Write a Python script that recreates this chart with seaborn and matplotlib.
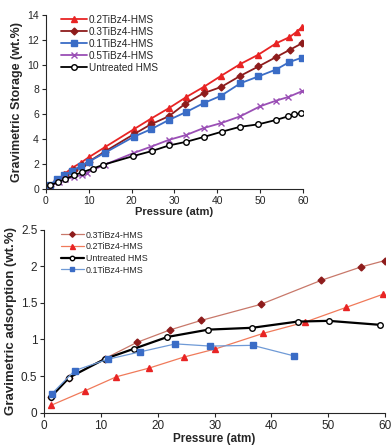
import pandas as pd
import seaborn as sns
import matplotlib.pyplot as plt
from matplotlib.ticker import FuncFormatter

# Top panel: gravimetric storage (wt.%) vs pressure (atm)
p_02 = [1, 2.7, 4.3, 6.1, 8.1, 10, 13.7, 20.5, 24.5, 28.7, 32.8, 36.8, 40.9, 45.4, 49.6, 53.7, 56.8, 58.6, 59.7]
s_02 = [0.2, 0.75, 1.2, 1.7, 2.1, 2.55, 3.35, 4.8, 5.65, 6.5, 7.4, 8.2, 9.1, 10.05, 10.8, 11.7, 12.2, 12.65, 13.0]
p_03 = [1, 2.7, 4.5, 6.5, 8.5, 10, 13.7, 20.5, 24.5, 28.7, 32.5, 36.8, 40.9, 45.4, 49.6, 53.7, 57, 59.7]
s_03 = [0.25, 0.7, 1.1, 1.5, 1.9, 2.2, 3.0, 4.4, 5.2, 5.85, 6.85, 7.7, 8.2, 9.1, 9.85, 10.6, 11.2, 11.7]
p_01 = [1, 2.7, 4.3, 6.1, 8.1, 10, 13.7, 20.5, 24.5, 28.7, 32.8, 36.8, 40.9, 45.4, 49.6, 53.7, 56.8, 59.7]
s_01 = [0.35, 0.8, 1.1, 1.45, 1.85, 2.2, 2.9, 4.2, 4.8, 5.55, 6.2, 6.9, 7.5, 8.5, 9.05, 9.6, 10.2, 10.55]
p_05 = [1, 3, 4.5, 6.5, 8.5, 9.5, 13.7, 20.5, 24.5, 28.7, 32.8, 36.8, 40.9, 45.4, 50, 53.7, 56.6, 59.7]
s_05 = [0.2, 0.6, 0.8, 0.95, 1.15, 1.3, 1.95, 2.9, 3.4, 3.95, 4.35, 4.9, 5.3, 5.85, 6.65, 7.1, 7.4, 7.85]
p_un = [1, 2.8, 4.5, 6.5, 8.5, 11, 13.4, 20.4, 24.7, 28.7, 32.8, 37, 41, 45.3, 49.6, 53.7, 56.6, 58, 59.5]
s_un = [0.3, 0.55, 0.8, 1.1, 1.35, 1.65, 1.95, 2.65, 3.05, 3.5, 3.8, 4.2, 4.6, 5.0, 5.2, 5.55, 5.85, 6.0, 6.1]

# Bottom panel: gravimetric adsorption (wt.%) vs pressure (atm)
q_03 = [1.1, 4.4, 10.7, 16.3, 22.1, 27.6, 38.1, 48.8, 55.7, 60]
a_03 = [0.21, 0.48, 0.74, 0.96, 1.13, 1.26, 1.48, 1.81, 1.99, 2.08]
q_02 = [1.2, 7.2, 12.7, 18.5, 24.6, 30.1, 38.6, 45.9, 53.2, 59.7]
a_02 = [0.1, 0.30, 0.49, 0.61, 0.76, 0.87, 1.085, 1.237, 1.44, 1.62]
q_un = [1.1, 4.4, 10.7, 15.85, 21.7, 28.9, 36.6, 44.6, 50.1, 59.2]
a_un = [0.21, 0.48, 0.735, 0.875, 1.035, 1.135, 1.16, 1.245, 1.255, 1.2]
q_01 = [1.3, 5.35, 11.2, 16.85, 23.1, 29.2, 36.7, 44]
a_01 = [0.256, 0.575, 0.73, 0.83, 0.94, 0.91, 0.92, 0.775]

sns.set_style("ticks")
plt.rcParams['font.family'] = ['Liberation Sans', 'DejaVu Sans']

fig = plt.figure(figsize=(3.92, 4.48), dpi=100)
ax1 = fig.add_axes([0.117, 0.578, 0.656, 0.389])
ax2 = fig.add_axes([0.113, 0.079, 0.869, 0.408])

red = '#e82424'
darkred = '#8e1c1c'
blue = '#3a6cc6'
purple = '#9a4fb5'

# top chart
top = [
    (p_02, s_02, '0.2TiBz4-HMS', red, '^', red, 4.5),
    (p_03, s_03, '0.3TiBz4-HMS', darkred, 'D', darkred, 3.5),
    (p_01, s_01, '0.1TiBz4-HMS', blue, 's', blue, 4),
    (p_05, s_05, '0.5TiBz4-HMS', purple, 'x', purple, 5),
    (p_un, s_un, 'Untreated HMS', 'black', 'o', 'white', 4),
]
for x, y, name, col, mk, face, ms in top:
    sns.lineplot(x=x, y=y, ax=ax1, sort=False, color=col, marker=mk, markersize=ms,
                 markerfacecolor=face, markeredgecolor=col, markeredgewidth=1,
                 linewidth=1.3, label=name)

ax1.set_xlim(0, 60)
ax1.set_ylim(0, 14)
ax1.set_xticks(range(0, 61, 10))
ax1.set_yticks(range(0, 15, 2))
ax1.tick_params(labelsize=7.5, length=3, width=0.8, pad=2)
ax1.set_xlabel('Pressure (atm)', fontsize=8, fontweight='bold', labelpad=1)
ax1.set_ylabel('Gravimetric Storage (wt.%)', fontsize=9, fontweight='bold', labelpad=3)
ax1.legend(loc='upper left', bbox_to_anchor=(0.03, 1.04), frameon=False, fontsize=7.2,
           handlelength=2.6, handletextpad=0.2, labelspacing=0.2, borderpad=0.2)
sns.despine(ax=ax1)

# bottom chart
bottom = [
    (q_03, a_03, '0.3TiBz4-HMS', '#c8786a', 'D', darkred, darkred, 3.5, 0.9),
    (q_02, a_02, '0.2TiBz4-HMS', '#f07a5a', '^', red, red, 4.5, 0.9),
    (q_un, a_un, 'Untreated HMS', 'black', 'o', 'white', 'black', 4, 1.6),
    (q_01, a_01, '0.1TiBz4-HMS', '#6f9ad6', 's', blue, blue, 4, 0.9),
]
for x, y, name, lc, mk, face, edge, ms, lw in bottom:
    sns.lineplot(x=x, y=y, ax=ax2, sort=False, color=lc, marker=mk, markersize=ms,
                 markerfacecolor=face, markeredgecolor=edge, markeredgewidth=1,
                 linewidth=lw, label=name)

ax2.set_xlim(0, 60)
ax2.set_ylim(0, 2.5)
ax2.set_xticks(range(0, 61, 10))
ax2.set_yticks([0, 0.5, 1, 1.5, 2, 2.5])
ax2.yaxis.set_major_formatter(FuncFormatter(lambda v, pos: f'{v:g}'))
ax2.tick_params(labelsize=8.5, length=3, width=0.8, pad=2)
ax2.set_xlabel('Pressure (atm)', fontsize=8.5, fontweight='bold', labelpad=1)
ax2.set_ylabel('Gravimetric adsorption (wt.%)', fontsize=9.5, fontweight='bold', labelpad=3)
ax2.legend(loc='upper left', bbox_to_anchor=(0.03, 1.03), frameon=False, fontsize=6.4,
           handlelength=2.6, handletextpad=0.2, labelspacing=0.3, borderpad=0.2,
           markerscale=0.8)
sns.despine(ax=ax2)

fig.savefig('out.png', dpi=100)
